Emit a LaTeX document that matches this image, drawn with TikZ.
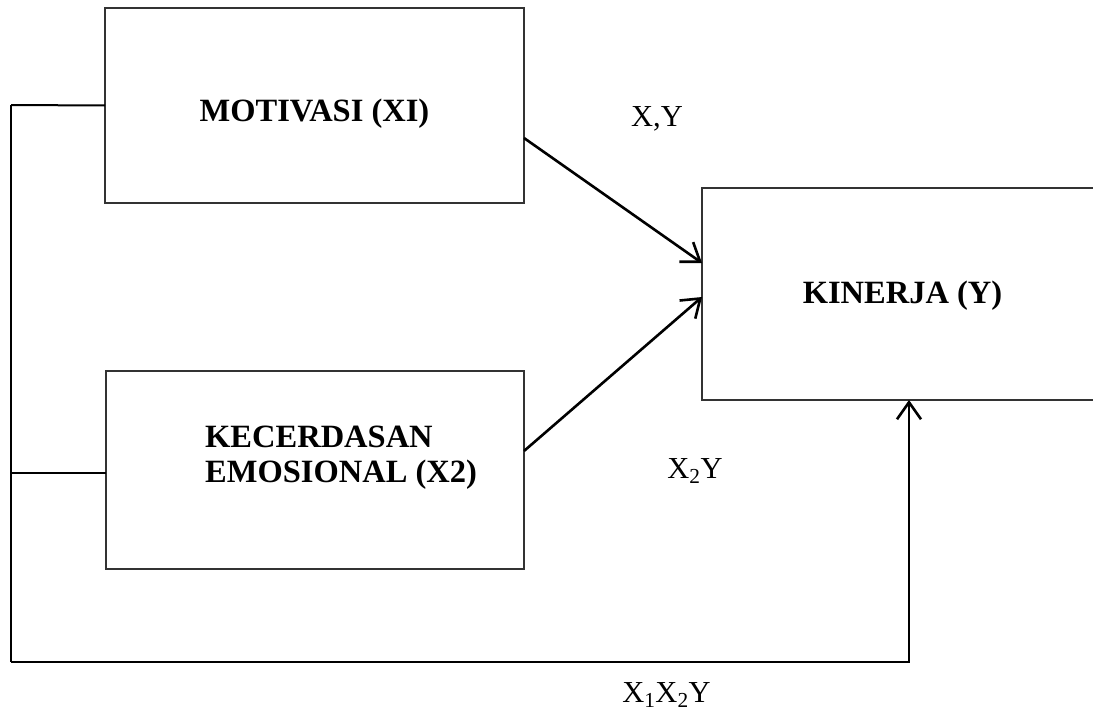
\documentclass[tikz,border=0pt]{standalone}
\usepackage{fontspec}
\setmainfont{Liberation Serif}
\usetikzlibrary{arrows.meta}
\tikzset{
  boxstyle/.style={draw=black!80, line width=1.6pt, inner sep=0pt, outer sep=0pt},
  conn/.style={draw=black, line width=2.6pt},
  arr/.style={conn, -{Straight Barb[length=17pt,width=24pt,line width=2.6pt]}},
  boldtxt/.style={font=\fontsize{32.5}{35}\selectfont\bfseries, inner sep=0pt},
  lbl/.style={font=\fontsize{30.5}{34}\selectfont, inner sep=0pt}
}
\begin{document}
\begin{tikzpicture}[x=1pt,y=-1pt]
\clip (0,0) rectangle (1093,712);
\fill[white] (0,0) rectangle (1093,712);
% boxes
\node[boxstyle, minimum width=419pt, minimum height=195pt] (mot) at (314.5,105.5) {};
\node[boxstyle, minimum width=418pt, minimum height=198pt] (kec) at (315,470) {};
\node[boxstyle, minimum width=398pt, minimum height=212pt] (kin) at (901,294) {};
% texts
\node[boldtxt, anchor=base] (tmot) at (314.5,121) {MOTIVASI (XI)};
\node[boldtxt, anchor=base west, align=left] (tkec) at (205,482) {KECERDASAN\\EMOSIONAL (X2)};
\node[boldtxt, anchor=base] (tkin) at (902.5,303) {KINERJA (Y)};
\node[lbl, anchor=base] (l1) at (657,126) {X,Y};
\node[lbl, anchor=base] (l2) at (695,478) {X\textsubscript{2}Y};
\node[lbl, anchor=base] (l3) at (666.5,702) {X\textsubscript{1}X\textsubscript{2}Y};
% coordinates
\coordinate (ctop) at (11,105);
\coordinate (cbot) at (11,662);
\coordinate (cright) at (909,662);
\coordinate (ckin) at (909,400);
% arrows
\draw[arr] ([yshift=-32.5pt]mot.east) -- ([yshift=31pt]kin.west);
\draw[arr] ([yshift=19pt]kec.west -| kec.east) -- ([yshift=-3pt]kin.west);
% feedback line
\draw[conn, line width=2pt] (mot.west) -- (ctop);
\draw[conn] (ctop) -- (cbot);
\draw[conn, line width=2pt] ([yshift=-3pt]kec.west) -- ([yshift=-3pt]kec.west -| ctop);
\draw[arr] (cbot) -- (cright) -- (ckin);
\end{tikzpicture}
\end{document}
